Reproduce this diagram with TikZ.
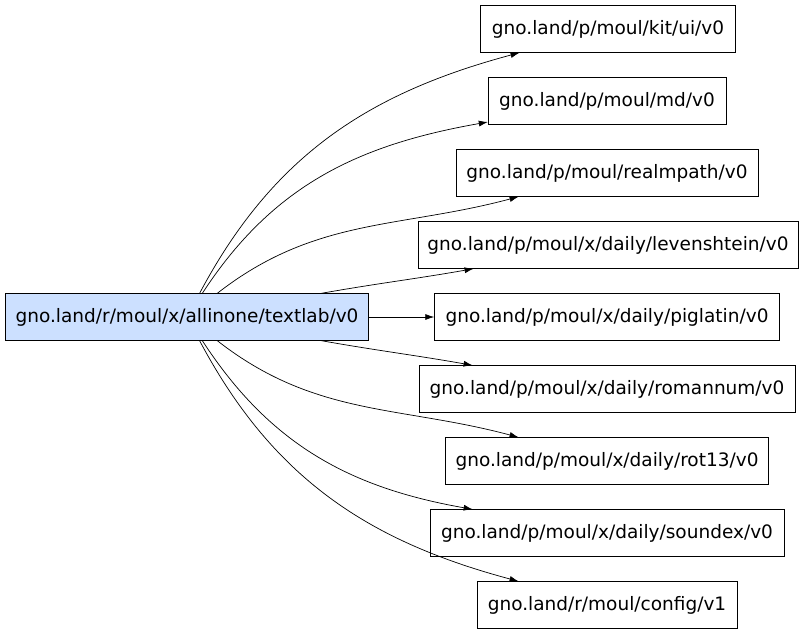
\documentclass[tikz,border=0pt]{standalone}
\usepackage{fontspec}
\setmainfont{DejaVu Sans}
\usetikzlibrary{arrows.meta,positioning}
\definecolor{srcblue}{HTML}{CCE0FF}
\begin{document}
\begin{tikzpicture}[x=1pt,y=1pt,
    pkg/.style={rectangle, draw=black, fill=white, minimum height=47pt, inner xsep=9pt, font=\fontsize{18.5}{20}\selectfont},
    dep/.style={-{Latex[length=9pt,width=6pt]}, line width=0.7pt}
]
\useasboundingbox (0,0) rectangle (804,-635);

% Source package
\node[pkg, fill=srcblue, minimum width=363pt] (textlab) at (187,-317) {gno.land/r/moul/x/allinone/textlab/v0};

% Dependencies
\node[pkg, minimum width=255pt] (kitui) at (608,-29) {gno.land/p/moul/kit/ui/v0};
\node[pkg, minimum width=238pt] (md) at (607,-101) {gno.land/p/moul/md/v0};
\node[pkg, minimum width=302pt] (realmpath) at (607,-173) {gno.land/p/moul/realmpath/v0};
\node[pkg, minimum width=380pt] (lev) at (608,-245) {gno.land/p/moul/x/daily/levenshtein/v0};
\node[pkg, minimum width=345pt] (pig) at (607,-317) {gno.land/p/moul/x/daily/piglatin/v0};
\node[pkg, minimum width=376pt] (roman) at (607,-389) {gno.land/p/moul/x/daily/romannum/v0};
\node[pkg, minimum width=323pt] (rot) at (607,-461) {gno.land/p/moul/x/daily/rot13/v0};
\node[pkg, minimum width=354pt] (soundex) at (607,-533) {gno.land/p/moul/x/daily/soundex/v0};
\node[pkg, minimum width=260pt] (config) at (607,-605) {gno.land/r/moul/config/v1};

% Edges
\draw[dep] (textlab) to[out=62,in=195] (kitui);
\draw[dep] (textlab) to[out=57,in=190] (md);
\draw[dep] (textlab) to[out=38,in=195] (realmpath);
\draw[dep] (textlab) to[out=10,in=190] (lev);
\draw[dep] (textlab) -- (pig);
\draw[dep] (textlab) to[out=-10,in=170] (roman);
\draw[dep] (textlab) to[out=-38,in=165] (rot);
\draw[dep] (textlab) to[out=-57,in=170] (soundex);
\draw[dep] (textlab) to[out=-62,in=165] (config);
\end{tikzpicture}
\end{document}
